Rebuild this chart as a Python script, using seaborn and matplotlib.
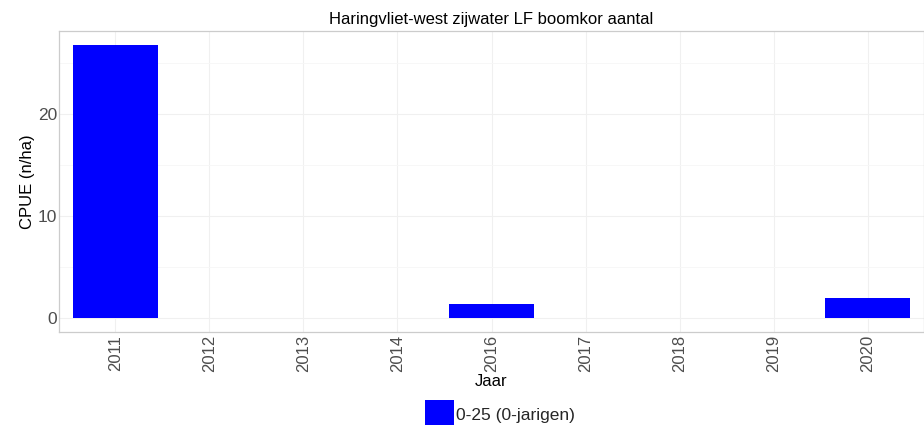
import numpy as np
import pandas as pd
import matplotlib
matplotlib.use("Agg")
import matplotlib.pyplot as plt
import seaborn as sns

# data
jaren = ["2011", "2012", "2013", "2014", "2016", "2017", "2018", "2019", "2020"]
cpue = [26.8, 0.0, 0.0, 0.0, 1.37, 0.0, 0.0, 0.0, 1.95]
lengteklasse = ["0-25 (0-jarigen)"] * len(jaren)

titel = "Haringvliet-west zijwater LF boomkor aantal"

df = pd.DataFrame({"Jaar": jaren, "CPUE": cpue, "klasse": lengteklasse})

sns.set_theme(style="white")
plt.rcParams["font.family"] = ["Liberation Sans", "DejaVu Sans"]

fig = plt.figure(figsize=(9.24, 4.25), dpi=100)
ax = fig.add_axes([59 / 924, 1 - 332 / 425, 1 - 59 / 924, 301 / 425])

sns.barplot(data=df, x="Jaar", y="CPUE", hue="klasse",
            palette={"0-25 (0-jarigen)": "#0000ff"}, width=0.9,
            linewidth=0, saturation=1, ax=ax, zorder=3)

# ggplot-like scales
ymax = max(cpue)
ax.set_ylim(-0.05 * ymax, 1.05 * ymax)
ax.set_xlim(-0.6, len(jaren) - 1 + 0.6)
ax.set_yticks([0, 10, 20])
ax.set_yticks([5, 15, 25], minor=True)

ax.grid(True, which="major", color="#f0f0f0", linewidth=0.8, zorder=0)
ax.grid(True, which="minor", axis="y", color="#f6f6f6", linewidth=0.6, zorder=0)
ax.set_axisbelow(True)
for s in ax.spines.values():
    s.set_color("#cccccc")
    s.set_linewidth(0.9)

ax.tick_params(axis="x", labelrotation=90, labelsize=12, colors="#4d4d4d",
               length=0, pad=2)
ax.tick_params(axis="y", labelsize=12.5, colors="#4d4d4d", length=0, pad=1.5)
ax.tick_params(which="minor", length=0)

ax.set_xlabel("Jaar", fontsize=12, color="black")
ax.xaxis.set_label_coords(0.5, (332 - 382) / 301)
ax.xaxis.label.set_va("center")
ax.set_ylabel("CPUE (n/ha)", fontsize=12, color="black")
ax.yaxis.set_label_coords((28 - 59) / 865, 0.5)
ax.yaxis.label.set_va("center")
ax.set_title(titel, fontsize=12, color="black", pad=5)

leg = ax.get_legend()
handles = leg.legend_handles
labels = [t.get_text() for t in leg.get_texts()]
leg.remove()
fig.legend(handles, labels, loc="upper center", bbox_to_anchor=(500 / 924, 1 - 393 / 425),
           frameon=False, fontsize=12.5, handlelength=1.7, handleheight=2.2,
           handletextpad=0.1, borderaxespad=0)

fig.savefig("out.png", dpi=100)
